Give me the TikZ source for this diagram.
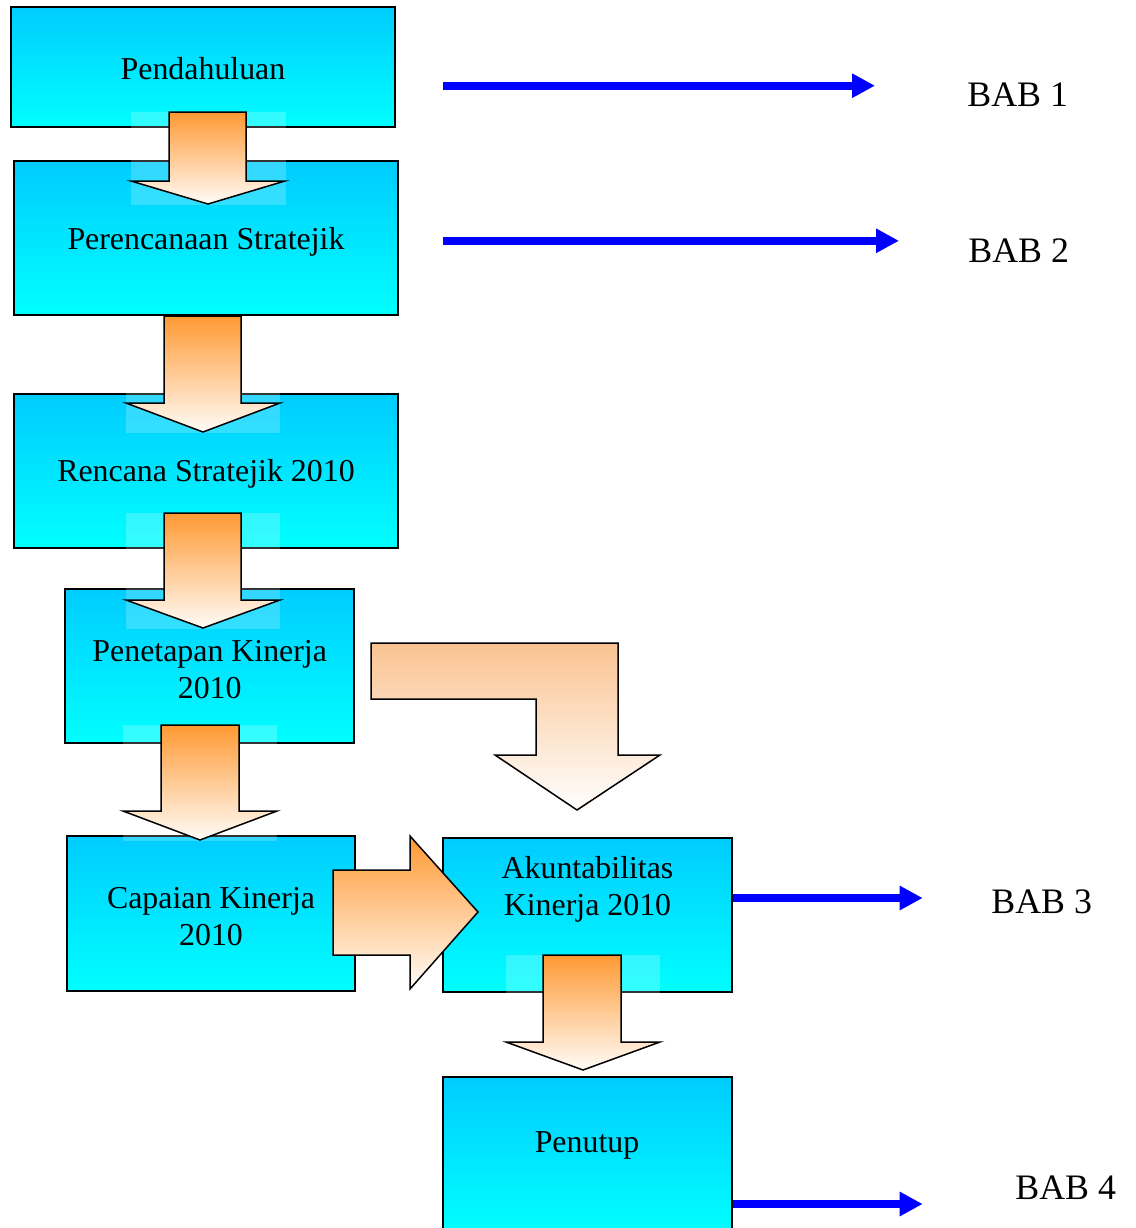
\documentclass[tikz,border=0pt]{standalone}
\usepackage{fontspec}
\setmainfont{Liberation Serif}
\usetikzlibrary{arrows.meta}
\definecolor{skyc}{RGB}{0,204,255}
\definecolor{cyanc}{RGB}{0,255,255}
\definecolor{orng}{RGB}{255,153,51}
\definecolor{orngmid}{RGB}{250,192,165}
\definecolor{orngbot}{RGB}{255,252,248}
\definecolor{peach}{RGB}{250,195,145}
\definecolor{peachmid}{RGB}{253,226,204}
\definecolor{bluec}{RGB}{0,0,255}
\newcommand\boxfont{\fontsize{18.14}{20.9}\selectfont}
\newcommand\babfont{\fontsize{20.4}{24}\selectfont}
\begin{document}
\begin{tikzpicture}[x=0.02cm,y=-0.02cm,
  boxstyle/.style={draw=black, line width=0.03cm, top color=skyc, bottom color=cyanc, inner sep=0pt},
  boxtext/.style={font=\boxfont, inner sep=0pt, align=center},
  babtext/.style={font=\babfont, inner sep=0pt, anchor=base west},
  blockarr/.style={draw=black, line width=0.03cm, top color=orng, middle color=orngmid, bottom color=orngbot},
  bentarr/.style={draw=black, line width=0.03cm, top color=peach, middle color=peachmid, bottom color=white},
  haze/.style={fill=white, opacity=0.2},
  bluearr/.style={draw=bluec, line width=0.16cm, -{Triangle[length=0.46cm,width=0.46cm]}}
]
\useasboundingbox (0,0) rectangle (1136,1228);
\clip (0,0) rectangle (1136,1228);
\fill[white] (0,0) rectangle (1136,1228);

% boxes
\node[boxstyle, minimum width=7.68cm, minimum height=2.40cm] (b1) at (203,67) {};
\node[boxstyle, minimum width=7.68cm, minimum height=3.08cm] (b2) at (206,238) {};
\node[boxstyle, minimum width=7.68cm, minimum height=3.08cm] (b3) at (206,471) {};
\node[boxstyle, minimum width=5.78cm, minimum height=3.08cm] (b4) at (209.5,666) {};
\node[boxstyle, minimum width=5.76cm, minimum height=3.10cm] (b5) at (211,913.5) {};
\node[boxstyle, minimum width=5.78cm, minimum height=3.08cm] (b6) at (587.5,915) {};
\node[boxstyle, minimum width=5.78cm, minimum height=3.08cm] (b7) at (587.5,1154) {};

% block arrows (down)
\fill[haze] (131,112) rectangle (286,205);
\path[blockarr] (169,112) -- (246,112) -- (246,181) -- (285,181) -- (208,204) -- (131,181) -- (169,181) -- cycle;
\fill[haze] (126,316) rectangle (280,433);
\path[blockarr] (164,316) -- (241,316) -- (241,403) -- (280,403) -- (203,432) -- (126,403) -- (164,403) -- cycle;
\fill[haze] (126,513) rectangle (280,629);
\path[blockarr] (164,513) -- (241,513) -- (241,600) -- (280,600) -- (203,628) -- (126,600) -- (164,600) -- cycle;
\fill[haze] (123,725) rectangle (277,841);
\path[blockarr] (161,725) -- (239,725) -- (239,811) -- (277,811) -- (200,840) -- (123,811) -- (161,811) -- cycle;
\fill[haze] (506,955) rectangle (660,1071);
\path[blockarr] (543,955) -- (621,955) -- (621,1042) -- (660,1042) -- (583,1070) -- (506,1042) -- (543,1042) -- cycle;

% right block arrow
\path[blockarr] (333,870) -- (410,870) -- (410,836) -- (478,912) -- (410,989) -- (410,955) -- (333,955) -- cycle;

% bent arrow
\path[bentarr] (371,643) -- (618,643) -- (618,755) -- (660,755) -- (577,810) -- (495,755) -- (536,755) -- (536,699) -- (371,699) -- cycle;

% box texts
\node[boxtext, anchor=base] (t1) at (203,79) {Pendahuluan};
\node[boxtext, anchor=base] (t2) at (206,249.3) {Perencanaan Stratejik};
\node[boxtext, anchor=base] (t3) at (206,481.5) {Rencana Stratejik 2010};
\node[boxtext, anchor=north] (t4) at (209.7,640) {Penetapan Kinerja\\2010};
\node[boxtext, anchor=north] (t5) at (211,887.2) {Capaian Kinerja\\2010};
\node[boxtext, anchor=north] (t6) at (587.5,856.2) {Akuntabilitas\\Kinerja 2010};
\node[boxtext, anchor=base] (t7) at (587,1152.5) {Penutup};

% BAB labels
\node[babtext] (l1) at (967,106.7) {BAB 1};
\node[babtext] (l2) at (968,262.3) {BAB 2};
\node[babtext] (l3) at (991,913.3) {BAB 3};
\node[babtext] (l4) at (1015,1199) {BAB 4};

% blue arrows
\coordinate (s1) at (443,85.7);
\coordinate (e1) at (875,85.7);
\coordinate (s2) at (443,240.8);
\coordinate (e2) at (899,240.8);
\coordinate (e3) at (922.7,898);
\coordinate (e4) at (922.7,1204);
\draw[bluearr] (s1) -- (e1);
\draw[bluearr] (s2) -- (e2);
\draw[bluearr] (b6.east |- e3) -- (e3);
\draw[bluearr] (b7.east |- e4) -- (e4);
\end{tikzpicture}
\end{document}
